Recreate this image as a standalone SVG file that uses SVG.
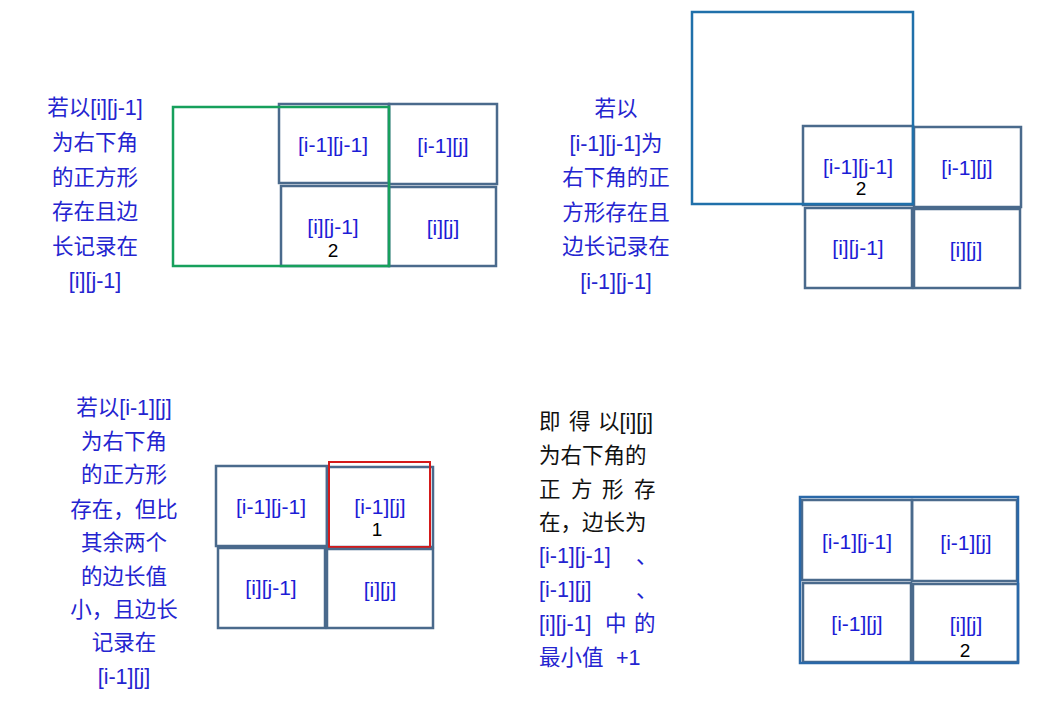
<svg xmlns="http://www.w3.org/2000/svg" width="1055" height="702" viewBox="0 0 1055 702">
<style>
.bg{fill:#ffffff}
.box{fill:none;stroke:#4a6a8c;stroke-width:2.5}
.green{fill:none;stroke:#17a05c;stroke-width:2.5}
.big{fill:none;stroke:#2070aa;stroke-width:2.5}
.red{fill:none;stroke:#d41a1a;stroke-width:2}
.frame{fill:none;stroke:#2a68a8;stroke-width:2.5}
.lbl{font-family:"Liberation Sans","Noto Sans CJK SC",sans-serif;font-size:21px;fill:#1c1cd6;text-anchor:middle}
.num{font-family:"Liberation Sans",sans-serif;font-size:19px;fill:#000;text-anchor:middle}
.cap{font-family:"Liberation Sans","Noto Sans CJK SC",sans-serif;font-size:21.5px;fill:#2424d0;text-anchor:middle}
.capk{font-family:"Liberation Sans","Noto Sans CJK SC",sans-serif;font-size:21.5px;fill:#111;}
.capb{font-family:"Liberation Sans","Noto Sans CJK SC",sans-serif;font-size:21.5px;fill:#2424d0;}
</style>
<rect class="bg" x="0" y="0" width="1055" height="702"/>

<!-- Panel 1 -->
<g id="p1-caption">
<text class="cap" x="95" y="115">若以[i][j-1]</text>
<text class="cap" x="95" y="150">为右下角</text>
<text class="cap" x="95" y="185">的正方形</text>
<text class="cap" x="95" y="219">存在且边</text>
<text class="cap" x="95" y="254">长记录在</text>
<text class="cap" x="95" y="288">[i][j-1]</text>
</g>
<g id="p1-a"><rect class="box" x="279" y="104" width="110" height="79"/><text class="lbl" x="333" y="152">[i-1][j-1]</text></g>
<g id="p1-b"><rect class="box" x="389" y="104" width="108" height="80"/><text class="lbl" x="443" y="153">[i-1][j]</text></g>
<g id="p1-c"><rect class="box" x="281" y="186" width="108" height="80"/><text class="lbl" x="333" y="234">[i][j-1]</text><text class="num" x="333" y="257">2</text></g>
<g id="p1-d"><rect class="box" x="389" y="187" width="107" height="79"/><text class="lbl" x="443" y="235">[i][j]</text></g>
<g id="p1-square"><rect class="green" x="173" y="107" width="216" height="159"/></g>

<!-- Panel 2 -->
<g id="p2-caption">
<text class="cap" x="616" y="116">若以</text>
<text class="cap" x="616" y="151">[i-1][j-1]为</text>
<text class="cap" x="616" y="185">右下角的正</text>
<text class="cap" x="616" y="220">方形存在且</text>
<text class="cap" x="616" y="254">边长记录在</text>
<text class="cap" x="616" y="289">[i-1][j-1]</text>
</g>
<g id="p2-a"><rect class="box" x="803" y="126" width="110" height="79"/><text class="lbl" x="858" y="174">[i-1][j-1]</text><text class="num" x="861" y="195">2</text></g>
<g id="p2-b"><rect class="box" x="914" y="127" width="107" height="80"/><text class="lbl" x="967" y="175">[i-1][j]</text></g>
<g id="p2-c"><rect class="box" x="805" y="208" width="107" height="80"/><text class="lbl" x="858" y="255">[i][j-1]</text></g>
<g id="p2-d"><rect class="box" x="914" y="209" width="106" height="79"/><text class="lbl" x="966" y="257">[i][j]</text></g>
<g id="p2-square"><rect class="big" x="692" y="12" width="221" height="192"/></g>

<!-- Panel 3 -->
<g id="p3-caption">
<text class="cap" x="124" y="415">若以[i-1][j]</text>
<text class="cap" x="124" y="449">为右下角</text>
<text class="cap" x="124" y="482">的正方形</text>
<text class="cap" x="124" y="517">存在，但比</text>
<text class="cap" x="124" y="550">其余两个</text>
<text class="cap" x="124" y="584">的边长值</text>
<text class="cap" x="124" y="617">小，且边长</text>
<text class="cap" x="124" y="650">记录在</text>
<text class="cap" x="124" y="684">[i-1][j]</text>
</g>
<g id="p3-a"><rect class="box" x="216" y="466" width="111" height="80"/><text class="lbl" x="271" y="514">[i-1][j-1]</text></g>
<g id="p3-b"><rect class="box" x="327" y="467" width="106" height="80"/><text class="lbl" x="380" y="514">[i-1][j]</text><text class="num" x="377" y="536">1</text></g>
<g id="p3-red"><rect class="red" x="329" y="462" width="101" height="85"/></g>
<g id="p3-c"><rect class="box" x="218" y="548" width="107" height="80"/><text class="lbl" x="271" y="595">[i][j-1]</text></g>
<g id="p3-d"><rect class="box" x="327" y="549" width="106" height="79"/><text class="lbl" x="380" y="597">[i][j]</text></g>

<!-- Panel 4 -->
<g id="p4-caption">
<text class="capk" y="429"><tspan x="539">即</tspan><tspan x="569">得</tspan><tspan x="598">以[i][j]</tspan></text>
<text class="capk" x="539" y="463">为右下角的</text>
<text class="capk" y="497"><tspan x="539">正</tspan><tspan x="571">方</tspan><tspan x="602">形</tspan><tspan x="634">存</tspan></text>
<text class="capk" x="539" y="530">在，边长为</text>
<text class="capb" y="563"><tspan x="539">[i-1][j-1]</tspan><tspan x="636">、</tspan></text>
<text class="capb" y="597"><tspan x="539">[i-1][j]</tspan><tspan x="636">、</tspan></text>
<text class="capb" y="631"><tspan x="539">[i][j-1]</tspan><tspan x="605">中</tspan><tspan x="634">的</tspan></text>
<text class="capb" y="665"><tspan x="539">最小值</tspan><tspan x="616">+1</tspan></text>
</g>
<g id="p4-a"><rect class="box" x="802" y="500" width="110" height="80"/><text class="lbl" x="857" y="549">[i-1][j-1]</text></g>
<g id="p4-b"><rect class="box" x="912" y="500" width="105" height="81"/><text class="lbl" x="966" y="550">[i-1][j]</text></g>
<g id="p4-c"><rect class="box" x="803" y="583" width="108" height="79"/><text class="lbl" x="857" y="631">[i-1][j]</text></g>
<g id="p4-d"><rect class="box" x="913" y="584" width="105" height="78"/><text class="lbl" x="966" y="632">[i][j]</text><text class="num" x="965" y="657">2</text></g>
<g id="p4-frame"><rect class="frame" x="800" y="497" width="218" height="166"/></g>

<g id="connectors"></g>
</svg>
